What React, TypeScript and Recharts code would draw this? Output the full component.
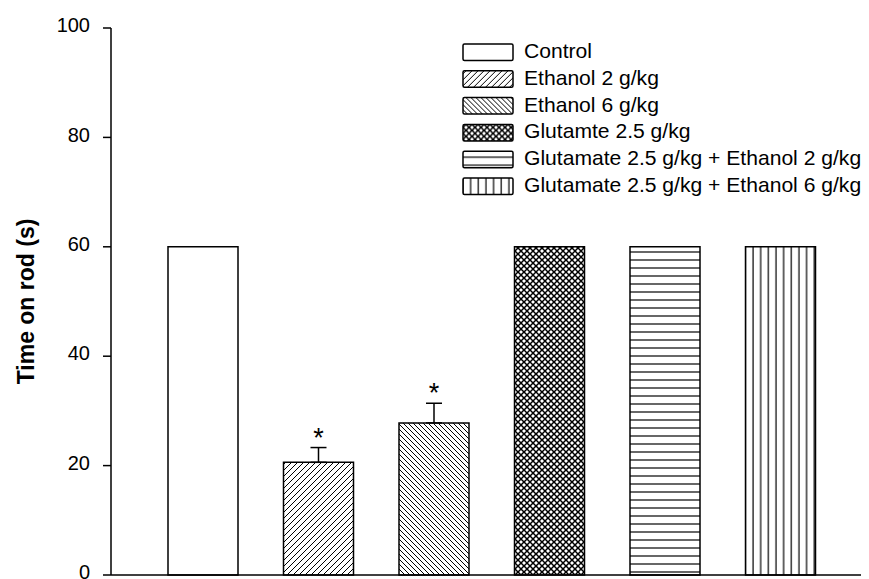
import { Bar, BarChart, Cell, ErrorBar, LabelList, Legend, XAxis, YAxis } from "recharts";

const groups = [
    "Control",
    "Ethanol 2 g/kg",
    "Ethanol 6 g/kg",
    "Glutamte 2.5 g/kg",
    "Glutamate 2.5 g/kg + Ethanol 2 g/kg",
    "Glutamate 2.5 g/kg + Ethanol 6 g/kg",
];
const timeOnRod = [60, 20.6, 27.8, 60, 60, 60];
const sem = [0, 2.7, 3.6, 0, 0, 0];
const marks = ["", "*", "*", "", "", ""];
const yTicks = [0, 20, 40, 60, 80, 100];

const fills = [
    "#ffffff",
    "url(#hatchUp)",
    "url(#hatchDown)",
    "url(#crossHatch)",
    "url(#horizLines)",
    "url(#vertLines)",
];

const data = groups.map((name, i) => ({
    name,
    value: timeOnRod[i],
    err: sem[i] > 0 ? [0, sem[i]] : null,
    sem: sem[i],
    mark: marks[i],
}));

const FONT = "Arial, 'Liberation Sans', sans-serif";

function Patterns() {
    return (
        <defs>
            <pattern id="hatchUp" patternUnits="userSpaceOnUse" width={6} height={6}>
                <rect width={6} height={6} fill="#fff" />
                <path d="M-1,1 l2,-2 M0,6 l6,-6 M5,7 l2,-2" stroke="#000" strokeWidth={1} />
            </pattern>
            <pattern id="hatchDown" patternUnits="userSpaceOnUse" width={5} height={5}>
                <rect width={5} height={5} fill="#fff" />
                <path d="M-1,-1 l2,2 M0,0 l5,5 M4,4 l2,2" stroke="#000" strokeWidth={1} />
            </pattern>
            <pattern id="crossHatch" patternUnits="userSpaceOnUse" width={6} height={6}>
                <rect width={6} height={6} fill="#fff" />
                <path d="M0,0 l6,6 M6,0 l-6,6" stroke="#000" strokeWidth={1.5} />
            </pattern>
            <pattern id="horizLines" patternUnits="userSpaceOnUse" width={8} height={8}>
                <rect width={8} height={8} fill="#fff" />
                <path d="M0,4 h8" stroke="#000" strokeWidth={1.2} />
            </pattern>
            <pattern id="vertLines" patternUnits="userSpaceOnUse" width={7.65} height={8}>
                <rect width={7.65} height={8} fill="#fff" />
                <path d="M3,0 v8" stroke="#000" strokeWidth={1.2} />
            </pattern>
        </defs>
    );
}

function PatternLegend() {
    return (
        <svg width={409} height={165} style={{ display: "block", fontFamily: FONT }}>
            {groups.map((g, i) => (
                <g key={g} transform={`translate(0, ${i * 26.8})`}>
                    <rect x={3} y={6} width={50} height={16.5} rx={1.5} fill={fills[i]} stroke="#000" strokeWidth={1.5} />
                    <text x={64} y={12.5} dominantBaseline="central" fontSize={21.1} fill="#000">
                        {g}
                    </text>
                </g>
            ))}
        </svg>
    );
}

// asterisk placed above the error bar cap
const StarLabel = (props: any) => {
    const { x, y, width, height, index } = props;
    const d = data[index];
    if (!d || !d.mark) return null;
    const pxPerUnit = height / d.value;
    const capY = y - d.sem * pxPerUnit;
    return (
        <text x={x + width / 2} y={capY - 1} textAnchor="middle" fontSize={27} fill="#000" fontFamily={FONT}>
            {d.mark}
        </text>
    );
};

export default function App() {
    // body keeps its 8px margin, so the chart's origin sits at (8, 8) on the page
    return (
        <div style={{ width: 861, height: 571, background: "#fff", fontFamily: FONT }}>
            <BarChart width={861} height={571} data={data} margin={{ top: 20, right: 1, bottom: 3, left: 0 }} barSize={70}>
                <Patterns />
                <XAxis
                    dataKey="name"
                    tick={false}
                    tickLine={false}
                    axisLine={{ stroke: "#000", strokeWidth: 1.5 }}
                    height={1}
                    padding={{ left: 34, right: 30 }}
                />
                <YAxis
                    domain={[0, 100]}
                    ticks={yTicks}
                    interval={0}
                    width={103}
                    tickSize={8}
                    tickMargin={13}
                    axisLine={{ stroke: "#000", strokeWidth: 1.5 }}
                    tickLine={{ stroke: "#000", strokeWidth: 1.5 }}
                    tick={{ fill: "#000", fontSize: 20, fontFamily: FONT, dy: -3 }}
                    label={{
                        value: "Time on rod (s)",
                        angle: -90,
                        position: "insideLeft",
                        offset: 18,
                        style: { textAnchor: "middle", fontWeight: "bold", fontSize: 23, fill: "#000", fontFamily: FONT },
                    }}
                />
                <Legend
                    layout="vertical"
                    align="center"
                    verticalAlign="middle"
                    wrapperStyle={{ left: 452, top: 30, width: 409 }}
                    content={() => <PatternLegend />}
                />
                <Bar dataKey="value" stroke="#000" strokeWidth={1.5} isAnimationActive={false}>
                    {data.map((d, i) => (
                        <Cell key={d.name} fill={fills[i]} />
                    ))}
                    <ErrorBar dataKey="err" direction="y" width={8} stroke="#000" strokeWidth={1.5} />
                    <LabelList dataKey="mark" content={StarLabel} />
                </Bar>
            </BarChart>
        </div>
    );
}
